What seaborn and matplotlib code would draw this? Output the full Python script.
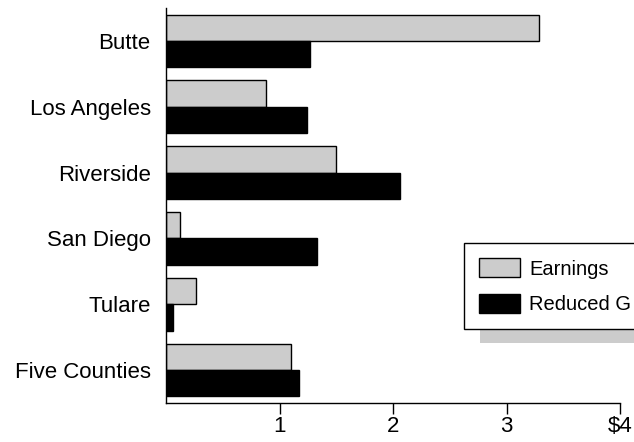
import matplotlib
matplotlib.use("Agg")
import matplotlib.pyplot as plt
import seaborn as sns
import pandas as pd
from matplotlib.patches import Rectangle, Patch

categories = ["Butte", "Los Angeles", "Riverside", "San Diego", "Tulare", "Five Counties"]
earnings = [3.29, 0.88, 1.50, 0.125, 0.26, 1.10]
reduced = [1.27, 1.24, 2.06, 1.33, 0.06, 1.17]
series = ["Earnings", "Reduced G"]
tick_values = [1, 2, 3, 4]
tick_labels = ["1", "2", "3", "$4"]
colors = ["#cccccc", "#000000"]

df = pd.DataFrame({
    "county": categories * 2,
    "value": earnings + reduced,
    "series": [series[0]] * len(categories) + [series[1]] * len(categories),
})

sns.set_theme(style="white")
plt.rcParams["font.family"] = ["Liberation Sans", "DejaVu Sans"]
plt.rcParams["text.color"] = "black"
plt.rcParams["xtick.color"] = "black"
plt.rcParams["ytick.color"] = "black"
plt.rcParams["axes.labelcolor"] = "black"

FS = 16
LFS = 14.5

fig = plt.figure(figsize=(6.34, 4.42), dpi=100)
ax = fig.add_axes([166 / 634, 1 - 403 / 442, (620 - 166) / 634, (403 - 8) / 442])

sns.barplot(data=df, x="value", y="county", hue="series", orient="h",
            palette=colors, edgecolor="black", linewidth=1, width=0.8,
            ax=ax, legend=False, errorbar=None)

ax.set_xlim(0, 4)
ax.set_ylim(5.5, -0.5)
ax.set_xticks(tick_values)
ax.set_xticklabels(tick_labels, fontsize=FS)
ax.tick_params(axis="x", direction="out", length=8, width=1, color="black",
               labelcolor="black", pad=1, bottom=True)
ax.tick_params(axis="y", length=0, pad=11, labelsize=FS, labelcolor="black")
ax.set_xlabel("")
ax.set_ylabel("")
for s in ["top", "right"]:
    ax.spines[s].set_visible(False)
for s in ["left", "bottom"]:
    ax.spines[s].set_color("black")
    ax.spines[s].set_linewidth(1)
ax.grid(False)

handles = [Patch(facecolor=colors[0], edgecolor="black", linewidth=1, label=series[0]),
           Patch(facecolor=colors[1], edgecolor="black", linewidth=1, label=series[1])]
leg = fig.legend(handles=handles, loc="upper left",
                 bbox_to_anchor=(464 / 634, 1 - 243 / 442), bbox_transform=fig.transFigure,
                 borderaxespad=0, fontsize=LFS, handlelength=2.05, handleheight=1.09,
                 handletextpad=0.45, borderpad=0.75, labelspacing=0.75,
                 fancybox=False, framealpha=1, edgecolor="black", frameon=True)
leg.get_frame().set_linewidth(1)
leg.set_zorder(5)
for t in leg.get_texts():
    t.set_color("black")

fig.canvas.draw()
bb = leg.get_window_extent()
sh = Rectangle(((bb.x0 + 16) / 634, (bb.y0 - 14) / 442), (bb.width) / 634, (bb.height) / 442,
               transform=fig.transFigure, facecolor="#cccccc", edgecolor="none", zorder=4)
fig.patches.append(sh)

fig.savefig("out.png", dpi=100)
